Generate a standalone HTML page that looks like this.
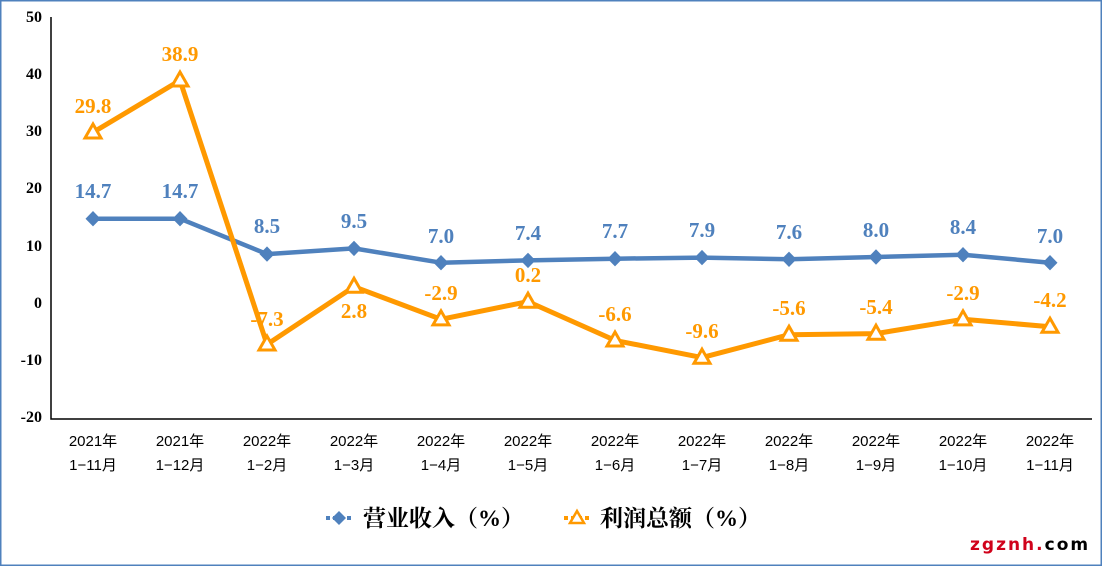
<!DOCTYPE html>
<html><head><meta charset="utf-8"><style>
html,body{margin:0;padding:0;background:#fff}
svg{display:block}
.yt{font-family:"Liberation Serif",serif;font-weight:bold;font-size:16px;fill:#000}
.xt{font-family:"Liberation Sans","Noto Sans CJK SC",sans-serif;font-size:15px;fill:#000}
.lb{font-family:"Liberation Serif",serif;font-weight:bold;font-size:21px}
.lg{font-family:"Liberation Serif","Noto Serif CJK SC",serif;font-weight:bold;font-size:23px;fill:#000}
</style></head><body>
<svg width="1102" height="566" viewBox="0 0 1102 566" xmlns="http://www.w3.org/2000/svg">
<rect x="0.75" y="0.75" width="1100.5" height="564.5" fill="#fff" stroke="#4F81BD" stroke-width="1.5"/>
<g class="yt" text-anchor="end">
<text x="42" y="22">50</text><text x="42" y="79">40</text><text x="42" y="136">30</text><text x="42" y="193">20</text><text x="42" y="251">10</text><text x="42" y="308">0</text><text x="42" y="365">-10</text><text x="42" y="422">-20</text>
</g>
<path d="M51 17V419H1092" fill="none" stroke="#000" stroke-width="1.5"/>
<g class="xt" text-anchor="middle">
<text x="93" y="446">2021年</text><text x="93" y="470">1−11月</text>
<text x="180" y="446">2021年</text><text x="180" y="470">1−12月</text>
<text x="267" y="446">2022年</text><text x="267" y="470">1−2月</text>
<text x="354" y="446">2022年</text><text x="354" y="470">1−3月</text>
<text x="441" y="446">2022年</text><text x="441" y="470">1−4月</text>
<text x="528" y="446">2022年</text><text x="528" y="470">1−5月</text>
<text x="615" y="446">2022年</text><text x="615" y="470">1−6月</text>
<text x="702" y="446">2022年</text><text x="702" y="470">1−7月</text>
<text x="789" y="446">2022年</text><text x="789" y="470">1−8月</text>
<text x="876" y="446">2022年</text><text x="876" y="470">1−9月</text>
<text x="963" y="446">2022年</text><text x="963" y="470">1−10月</text>
<text x="1050" y="446">2022年</text><text x="1050" y="470">1−11月</text>
</g>
<polyline fill="none" stroke="#4F81BD" stroke-width="4.5" stroke-linejoin="round" points="93,218.7 180,218.7 267,254.1 354,248.4 441,262.7 528,260.4 615,258.7 702,257.6 789,259.3 876,257 963,254.7 1050,262.7"/>
<g fill="#4F81BD">
<path d="M93 211l7.5 7.7-7.5 7.7-7.5-7.7z"/><path d="M180 211l7.5 7.7-7.5 7.7-7.5-7.7z"/><path d="M267 246.4l7.5 7.7-7.5 7.7-7.5-7.7z"/><path d="M354 240.7l7.5 7.7-7.5 7.7-7.5-7.7z"/><path d="M441 255l7.5 7.7-7.5 7.7-7.5-7.7z"/><path d="M528 252.7l7.5 7.7-7.5 7.7-7.5-7.7z"/><path d="M615 251l7.5 7.7-7.5 7.7-7.5-7.7z"/><path d="M702 249.9l7.5 7.7-7.5 7.7-7.5-7.7z"/><path d="M789 251.6l7.5 7.7-7.5 7.7-7.5-7.7z"/><path d="M876 249.3l7.5 7.7-7.5 7.7-7.5-7.7z"/><path d="M963 247l7.5 7.7-7.5 7.7-7.5-7.7z"/><path d="M1050 255l7.5 7.7-7.5 7.7-7.5-7.7z"/>
</g>
<polyline fill="none" stroke="#FF9900" stroke-width="5" stroke-linejoin="round" points="93,132.4 180,80.4 267,344.4 354,286.7 441,319.3 528,301.6 615,340.4 702,357.6 789,334.7 876,333.6 963,319.3 1050,326.7"/>
<g fill="#fff" stroke="#FF9900" stroke-width="3" stroke-linejoin="miter">
<path d="M93 124l8 14h-16z"/><path d="M180 72l8 14h-16z"/><path d="M267 336l8 14h-16z"/><path d="M354 278.3l8 14h-16z"/><path d="M441 310.9l8 14h-16z"/><path d="M528 293.2l8 14h-16z"/><path d="M615 332l8 14h-16z"/><path d="M702 349.2l8 14h-16z"/><path d="M789 326.3l8 14h-16z"/><path d="M876 325.2l8 14h-16z"/><path d="M963 310.9l8 14h-16z"/><path d="M1050 318.3l8 14h-16z"/>
</g>
<g class="lb" fill="#4F81BD" text-anchor="middle">
<text x="93" y="198">14.7</text><text x="180" y="198">14.7</text><text x="267" y="233">8.5</text><text x="354" y="228">9.5</text><text x="441" y="243">7.0</text><text x="528" y="240">7.4</text><text x="615" y="238">7.7</text><text x="702" y="237">7.9</text><text x="789" y="239">7.6</text><text x="876" y="237">8.0</text><text x="963" y="234">8.4</text><text x="1050" y="243">7.0</text>
</g>
<g class="lb" fill="#FF9900" text-anchor="middle">
<text x="93" y="113">29.8</text><text x="180" y="61">38.9</text><text x="267" y="326">-7.3</text><text x="354" y="318">2.8</text><text x="441" y="300">-2.9</text><text x="528" y="282">0.2</text><text x="615" y="321">-6.6</text><text x="702" y="338">-9.6</text><text x="789" y="315">-5.6</text><text x="876" y="314">-5.4</text><text x="963" y="300">-2.9</text><text x="1050" y="307">-4.2</text>
</g>
<line x1="326" y1="518" x2="352" y2="518" stroke="#4F81BD" stroke-width="4" stroke-dasharray="4 3"/>
<path d="M339 511l7 7-7 7-7-7z" fill="#4F81BD"/>
<text class="lg" x="363" y="526">营业收入（%）</text>
<line x1="564" y1="518" x2="590" y2="518" stroke="#FF9900" stroke-width="4" stroke-dasharray="4 3"/>
<path d="M577 511l7 12h-14z" fill="#fff" stroke="#FF9900" stroke-width="2.5"/>
<text x="600" y="526" class="lg">利润总额（%）</text>
<text x="970" y="550" font-family="'DejaVu Sans',sans-serif" font-weight="bold" font-size="17" letter-spacing="2"><tspan fill="#D0021B">zgznh.</tspan><tspan fill="#000">com</tspan></text>
</svg>
</body></html>
